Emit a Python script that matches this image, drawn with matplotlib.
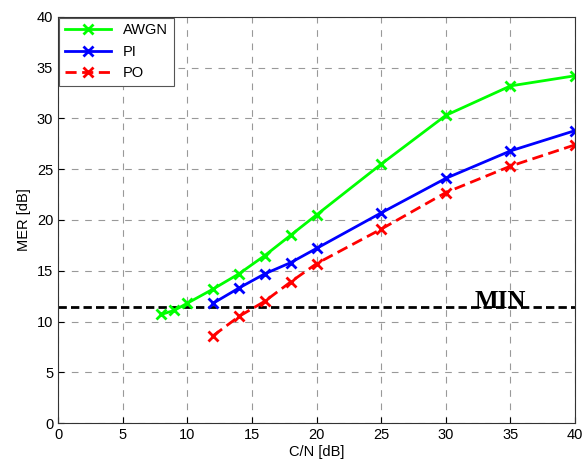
import matplotlib
matplotlib.use("Agg")
import matplotlib.pyplot as plt

plt.rcParams['font.family'] = ['Liberation Sans', 'DejaVu Sans']

cn_awgn = [8, 9, 10, 12, 14, 16, 18, 20, 25, 30, 35, 40]
mer_awgn = [10.7, 11.1, 11.8, 13.2, 14.7, 16.5, 18.5, 20.5, 25.5, 30.3, 33.2, 34.2]

cn_pi = [12, 14, 16, 18, 20, 25, 30, 35, 40]
mer_pi = [11.8, 13.3, 14.7, 15.8, 17.2, 20.7, 24.1, 26.8, 28.8]

cn_po = [12, 14, 16, 18, 20, 25, 30, 35, 40]
mer_po = [8.6, 10.5, 12.0, 13.9, 15.7, 19.1, 22.7, 25.3, 27.4]

mer_min = 11.4
x_ticks = [0, 5, 10, 15, 20, 25, 30, 35, 40]
y_ticks = [0, 5, 10, 15, 20, 25, 30, 35, 40]

fig = plt.figure(figsize=(5.83, 4.68), dpi=100)
ax = fig.add_axes([0.0995, 0.096, 0.887, 0.868])

ax.plot(cn_awgn, mer_awgn, color='#00ff00', lw=2, marker='x', ms=7.5, mew=2, label='AWGN')
ax.plot(cn_pi, mer_pi, color='#0000ff', lw=2, marker='x', ms=7.5, mew=2, label='PI')
ax.plot(cn_po, mer_po, color='#ff0000', lw=2, ls='--', dashes=(4, 2), marker='x', ms=7.5, mew=2, label='PO')
ax.axhline(mer_min, color='black', lw=2, ls='--', dashes=(3, 1.5), zorder=1)
ax.text(34.2, mer_min - 0.1, 'MIN', family='Liberation Serif', fontweight='bold',
        fontsize=18, ha='center', va='baseline')

ax.set_xlim(0, 40)
ax.set_ylim(0, 40)
ax.set_xticks(x_ticks)
ax.set_yticks(y_ticks)
ax.tick_params(direction='in', labelsize=10.5, length=4)
ax.grid(True, color='#999999', ls='--', dashes=(6, 6), lw=0.8)
ax.set_axisbelow(True)
for s in ax.spines.values():
    s.set_color('#333333')
ax.set_xlabel('C/N [dB]', fontsize=10.5, labelpad=2)
ax.set_ylabel('MER [dB]', fontsize=10.5, labelpad=4)

leg = ax.legend(loc='upper left', fontsize=10.5, fancybox=False, framealpha=1,
                edgecolor='#555555', borderaxespad=0.05, handlelength=3.2,
                labelspacing=0.5)
leg.get_frame().set_linewidth(0.8)

fig.savefig('out.png', dpi=100)
